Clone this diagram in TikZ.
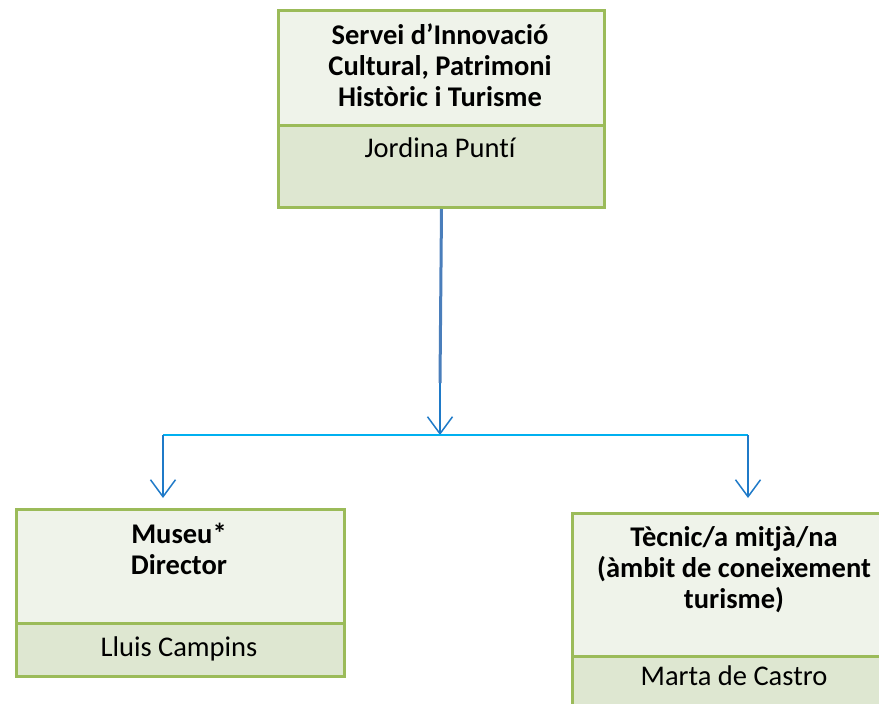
\documentclass[tikz,border=0pt]{standalone}
\usepackage{fontspec}
\setmainfont{Carlito}[Ligatures=NoCommon]
\usetikzlibrary{arrows.meta}
\definecolor{bordergreen}{HTML}{9BBB59}
\definecolor{fillhead}{HTML}{EFF3EA}
\definecolor{fillname}{HTML}{DEE7D1}
\definecolor{linkdark}{HTML}{4A7EBB}
\definecolor{linkblue}{HTML}{1F7AC8}
\definecolor{linkcyan}{HTML}{00B0F0}
\tikzset{
  headbox/.style={draw=bordergreen, fill=fillhead, line width=3pt, anchor=north west, inner sep=0pt},
  namebox/.style={draw=bordergreen, fill=fillname, line width=3pt, anchor=north west, inner sep=0pt},
  titletext/.style={font=\fontsize{28.5}{31}\selectfont\bfseries, align=center, anchor=base, inner sep=0pt},
  nametext/.style={font=\fontsize{28.5}{31}\selectfont, anchor=base, inner sep=0pt},
  barb/.style={-{Straight Barb[length=17pt,width=25pt,line width=1.5pt]}},
}
\begin{document}
\begin{tikzpicture}[x=1pt,y=-1pt]
\useasboundingbox (0,0) rectangle (879,704);
\clip (0,0) rectangle (879,704);
% top box
\node[headbox, minimum width=326pt, minimum height=115pt] (tophead) at (277,9) {};
\node[namebox, minimum width=326pt, minimum height=82pt] (topname) at (277,124) {};
\node[titletext] (toptitle) at (440,106) {Servei d’Innovació\\Cultural, Patrimoni\\Històric i Turisme};
\node[nametext] (topperson) at (440,157) {Jordina Puntí};
% left box
\node[headbox, minimum width=328pt, minimum height=114pt] (lefthead) at (15,508) {};
\node[namebox, minimum width=328pt, minimum height=53pt] (leftname) at (15,622) {};
\node[titletext] (lefttitle) at (179,574) {Museu*\\Director};
\node[nametext] (leftperson) at (179,656) {Lluis Campins};
% right box
\node[headbox, minimum width=327pt, minimum height=143pt] (righthead) at (571,512) {};
\node[namebox, minimum width=327pt, minimum height=70pt] (rightname) at (571,655) {};
\node[titletext] (righttitle) at (734,608) {Tècnic/a mitjà/na\\(àmbit de coneixement\\turisme)};
\node[nametext] (rightperson) at (734,685) {Marta de Castro};
% connectors
\coordinate (bend) at (440,383);
\coordinate (hub) at (440,435);
\coordinate (hubleft) at (163,435);
\coordinate (hubright) at (748,435);
\coordinate (lefttip) at (163,498);
\coordinate (righttip) at (748,498);
\draw[linkdark, line width=3pt] (topname.south) -- (bend);
\draw[linkblue, line width=1.5pt, barb] (bend) -- (hub);
\draw[linkcyan, line width=2.5pt] (hubleft) -- (hubright);
\draw[linkblue, line width=1.5pt, barb] (hubleft) -- (lefttip);
\draw[linkblue, line width=1.5pt, barb] (hubright) -- (righttip);
\end{tikzpicture}
\end{document}
